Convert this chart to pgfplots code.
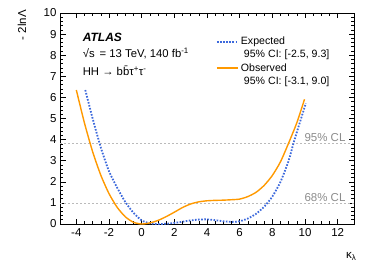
\documentclass[border=0pt]{standalone}
\usepackage{pgfplots}
\pgfplotsset{compat=1.18}
\usepackage{fontspec}
\setmainfont{Liberation Sans}
\definecolor{obs}{RGB}{255,153,0}
\definecolor{expc}{RGB}{60,105,220}
\definecolor{clgray}{RGB}{140,140,140}
\begin{document}
\begin{tikzpicture}[x=1pt,y=1pt]
\useasboundingbox (0,0) rectangle (374,268);
\begin{axis}[
  at={(60pt,44pt)}, anchor=south west,
  width=294pt, height=211pt, scale only axis,
  xmin=-5, xmax=13, ymin=0, ymax=10,
  xtick={-4,-2,...,12}, minor x tick num=3,
  ytick={0,1,...,10}, minor y tick num=4,
  tick align=inside,
  major tick length=5.5pt, minor tick length=3pt,
  every tick/.style={black, line width=0.6pt},
  axis line style={line width=0.8pt},
  tick label style={font=\fontsize{11.5}{13}\selectfont},
  /pgf/number format/assume math mode=true,
  xticklabel style={yshift=-1pt},
  clip=true,
  legend cell align=left,
  legend style={draw=none, fill=none, at={(0.52,0.905)}, anchor=north west,
    font=\fontsize{10.6}{12.5}\selectfont, row sep=13pt,
    /tikz/every even column/.append style={column sep=2pt}},
  legend image code/.code={\draw[#1] (0pt,0pt) -- (21pt,0pt);},
]
\addplot[clgray!60, line width=0.6pt, dash pattern=on 2pt off 2pt, forget plot] coordinates {(-5,1) (13,1)};
\addplot[clgray!60, line width=0.6pt, dash pattern=on 2pt off 2pt, forget plot] coordinates {(-5,3.84) (13,3.84)};
\addplot[expc, line width=1.8pt, dash pattern=on 1.6pt off 1.5pt, smooth, tension=0.4] coordinates {
(-3.45,6.35) (-3.0,5.0) (-2.5,3.62) (-2.0,2.5) (-1.5,1.72) (-1.0,1.04) (-0.5,0.53) (0.0,0.17) (0.5,0.03) (1.0,0.0) (1.5,0.01) (2.0,0.05) (2.5,0.11) (3.0,0.17) (3.5,0.21) (4.0,0.22) (4.5,0.18) (5.0,0.13) (5.5,0.1) (6.0,0.13) (6.5,0.26) (7.0,0.48) (7.5,0.82) (8.0,1.3) (8.5,2.0) (9.0,3.0) (9.3,3.84) (9.6,4.6) (10.05,5.72)
};
\addlegendentry{Expected}
\addplot[obs, line width=1.4pt, smooth, tension=0.4] coordinates {
(-4.0,6.35) (-3.5,4.78) (-3.0,3.42) (-2.5,2.31) (-2.0,1.44) (-1.5,0.79) (-1.0,0.34) (-0.5,0.08) (0.0,0.0) (0.5,0.05) (1.0,0.17) (1.5,0.35) (2.0,0.56) (2.5,0.78) (3.0,0.95) (3.5,1.05) (4.0,1.1) (4.5,1.12) (5.0,1.13) (5.5,1.15) (6.0,1.18) (6.5,1.3) (7.0,1.5) (7.5,1.83) (8.0,2.3) (8.5,2.95) (9.0,3.84) (9.5,4.8) (9.97,5.91)
};
\addlegendentry{Observed}
\node[anchor=base west, font=\fontsize{10.6}{12.5}\selectfont, inner sep=0pt] at (rel axis cs:0.625,0.791) {95\% CI: [-2.5, 9.3]};
\node[anchor=base west, font=\fontsize{10.6}{12.5}\selectfont, inner sep=0pt] at (rel axis cs:0.625,0.659) {95\% CI: [-3.1, 9.0]};
\node[anchor=south east, text=clgray, font=\fontsize{11.5}{13}\selectfont, inner sep=1pt] at (axis cs:12.55,3.84) {95\% CL};
\node[anchor=south east, text=clgray, font=\fontsize{11.5}{13}\selectfont, inner sep=1pt] at (axis cs:12.55,1) {68\% CL};
\node[anchor=base west, font=\fontsize{12}{14}\selectfont\bfseries\itshape, inner sep=0pt] at (rel axis cs:0.077,0.867) {ATLAS};
\node[anchor=base west, font=\fontsize{11.3}{13}\selectfont, inner sep=0pt] at (rel axis cs:0.077,0.787) {√s\, = 13 TeV, 140 fb\textsuperscript{-1}};
\node[anchor=base west, font=\fontsize{11.3}{13}\selectfont, inner sep=0pt] at (rel axis cs:0.077,0.706) {HH → b\={b}τ\textsuperscript{+}τ\textsuperscript{-}};
\end{axis}
\node[rotate=90, anchor=east, font=\fontsize{11.5}{13}\selectfont, inner sep=0pt] at (22,258) {- 2lnΛ};
\node[anchor=base east, font=\fontsize{11.5}{13}\selectfont, inner sep=0pt] at (356,10) {κ\raisebox{-0.35ex}{\fontsize{8}{9}\selectfont λ}};
\end{tikzpicture}
\end{document}
